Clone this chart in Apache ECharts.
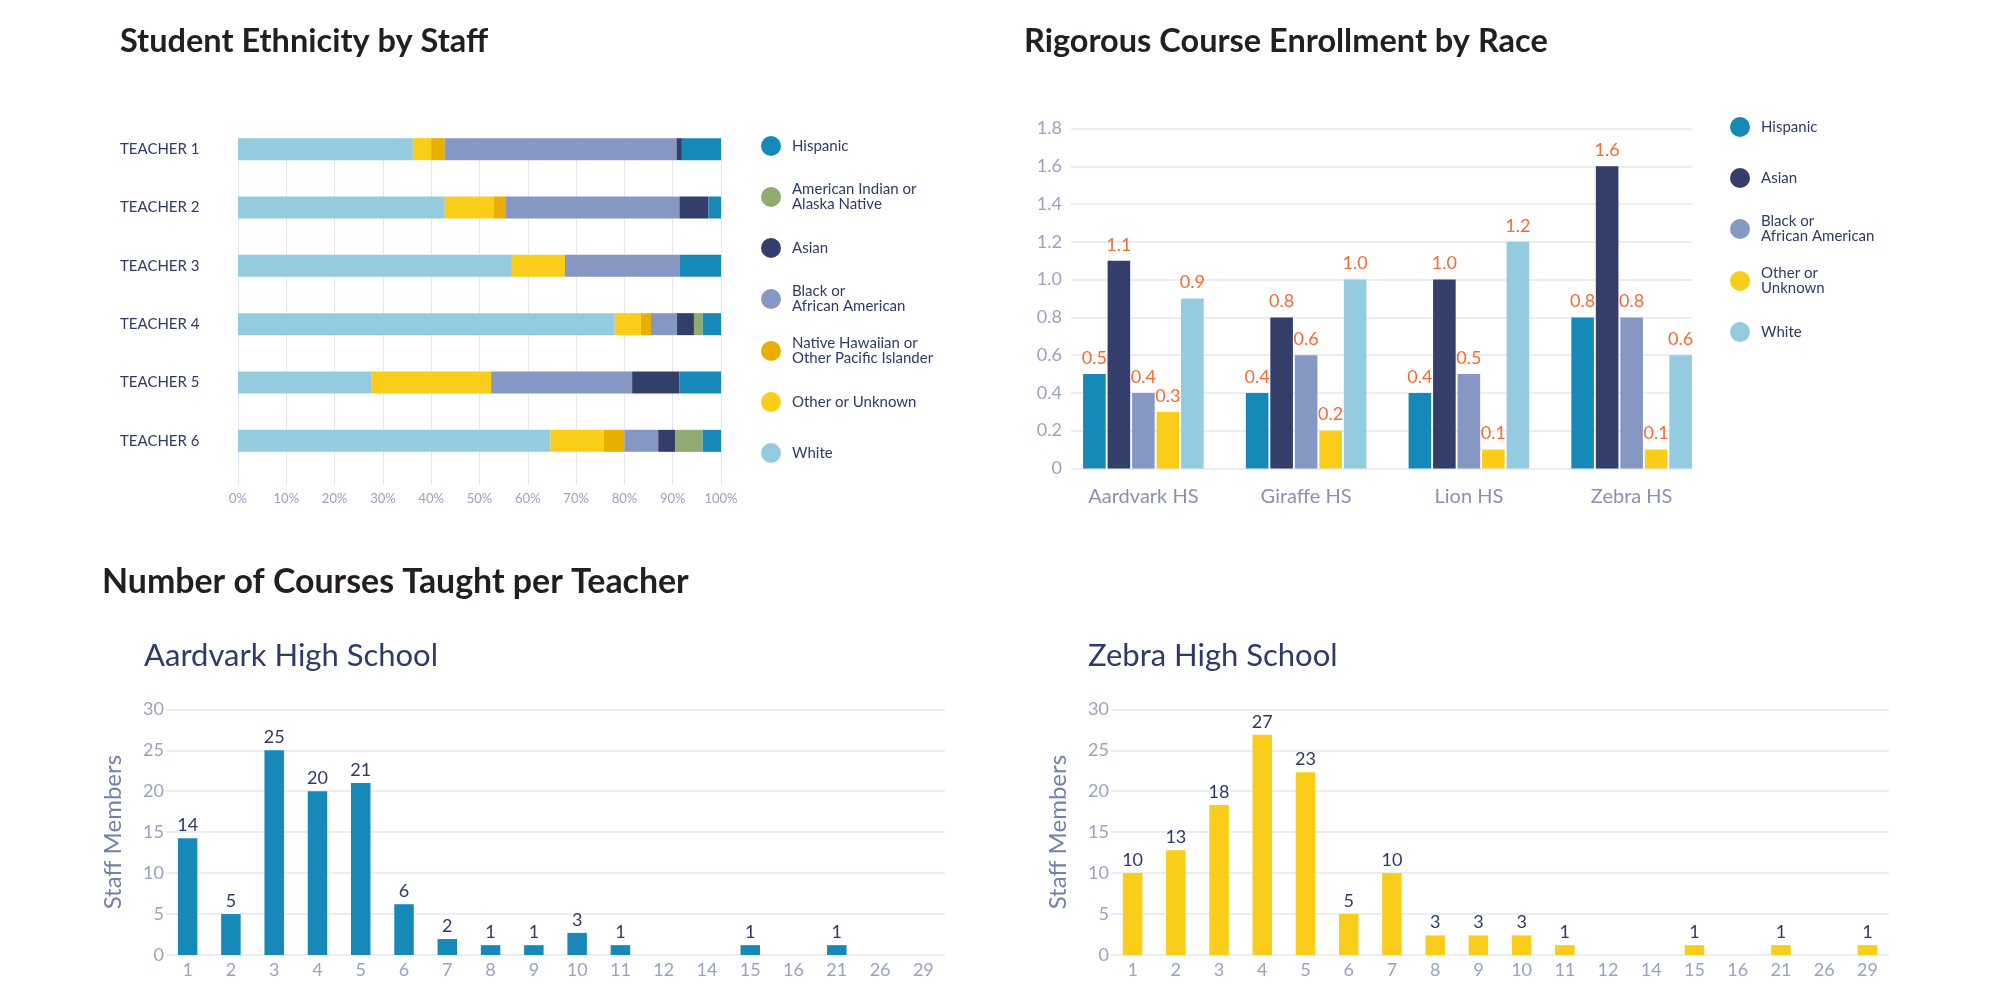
<!DOCTYPE html>
<html>
<head>
<meta charset="utf-8">
<script src="https://cdn.jsdelivr.net/npm/echarts@6/dist/echarts.min.js"></script>
<style>html,body{margin:0;padding:0;background:#fff}#chart{width:2000px;height:1000px}</style>
</head>
<body>
<div id="chart"></div>
<script>
// ---------- DATA ----------
const teachers = ['TEACHER 1', 'TEACHER 2', 'TEACHER 3', 'TEACHER 4', 'TEACHER 5', 'TEACHER 6'];
// percent of each teacher's students
const ethWhite          = [36.2, 42.8, 56.7, 78.0, 27.7, 64.7];
const ethOther          = [3.8, 10.1, 11.0, 5.4, 24.7, 11.0];
const ethNativeHawaiian = [2.8, 2.6, 0, 2.1, 0, 4.3];
const ethBlack          = [48.0, 35.9, 23.7, 5.4, 29.2, 7.0];
const ethAsian          = [1.1, 6.0, 0, 3.5, 9.8, 3.5];
const ethAmIndian       = [0, 0, 0, 1.8, 0, 5.7];
const ethHispanic       = [8.1, 2.6, 8.6, 3.8, 8.6, 3.8];
const pctTicks = [0, 10, 20, 30, 40, 50, 60, 70, 80, 90, 100];

const schools = ['Aardvark HS', 'Giraffe HS', 'Lion HS', 'Zebra HS'];
const rigHispanic = [0.5, 0.4, 0.4, 0.8];
const rigAsian    = [1.1, 0.8, 1.0, 1.6];
const rigBlack    = [0.4, 0.6, 0.5, 0.8];
const rigOther    = [0.3, 0.2, 0.1, 0.1];
const rigWhite    = [0.9, 1.0, 1.2, 0.6];

const courseCounts = ['1', '2', '3', '4', '5', '6', '7', '8', '9', '10', '11', '12', '14', '15', '16', '21', '26', '29'];
// drawn bar heights as they appear, and the printed value labels
const aardvarkHeights = [14.25, 5.0, 25.0, 20.0, 21.0, 6.2, 1.95, 1.2, 1.2, 2.7, 1.2, null, null, 1.2, null, 1.2, null, null];
const aardvarkLabels  = [14, 5, 25, 20, 21, 6, 2, 1, 1, 3, 1, null, null, 1, null, 1, null, null];
const zebraHeights    = [10.0, 12.8, 18.3, 26.9, 22.3, 5.0, 10.0, 2.4, 2.4, 2.4, 1.2, null, null, 1.2, null, 1.2, null, 1.2];
const zebraLabels     = [10, 13, 18, 27, 23, 5, 10, 3, 3, 3, 1, null, null, 1, null, 1, null, 1];

// ---------- STYLE ----------
const F = 'Lato, "Noto Sans", sans-serif';
const NAVY = '#2f3a68';
const GREY = '#9aa2bf';
const GRIDLINE = '#e4e7f1';
const C = {
  hispanic: '#1789b8', amIndian: '#8fab6f', asian: '#333f6a', black: '#8597c2',
  nh: '#e8ae00', other: '#f9cd1a', white: '#94cbdf'
};

const ethDefs = [
  ['White', ethWhite, C.white],
  ['Other or Unknown', ethOther, C.other],
  ['Native Hawaiian or Other Pacific Islander', ethNativeHawaiian, C.nh],
  ['Black or African American', ethBlack, C.black],
  ['Asian', ethAsian, C.asian],
  ['American Indian or Alaska Native', ethAmIndian, C.amIndian],
  ['Hispanic', ethHispanic, C.hispanic]
];
const rigDefs = [
  ['Hispanic', rigHispanic, C.hispanic],
  ['Asian', rigAsian, C.asian],
  ['Black or African American', rigBlack, C.black],
  ['Other or Unknown', rigOther, C.other],
  ['White', rigWhite, C.white]
];

function legendItem(name, label, cx, cy) {
  const lines = label.split('\n').length;
  const h = Math.max(20, 15 * lines);
  return {
    data: [name], left: cx - 11, top: cy - h / 2, orient: 'vertical', padding: 0,
    itemWidth: 32, itemHeight: 20, icon: 'circle', selectedMode: false,
    formatter: () => label,
    textStyle: { fontFamily: F, fontSize: 15, lineHeight: 15, color: NAVY }
  };
}

const legends = [
  legendItem('Hispanic', 'Hispanic', 772, 146),
  legendItem('American Indian or Alaska Native', 'American Indian or\nAlaska Native', 772, 197),
  legendItem('Asian', 'Asian', 772, 248),
  legendItem('Black or African American', 'Black or\nAfrican American', 772, 299),
  legendItem('Native Hawaiian or Other Pacific Islander', 'Native Hawaiian or\nOther Pacific Islander', 772, 351),
  legendItem('Other or Unknown', 'Other or Unknown', 772, 402),
  legendItem('White', 'White', 772, 453),
  legendItem('Hispanic', 'Hispanic', 1741, 127),
  legendItem('Asian', 'Asian', 1741, 178),
  legendItem('Black or African American', 'Black or\nAfrican American', 1741, 229),
  legendItem('Other or Unknown', 'Other or\nUnknown', 1741, 281),
  legendItem('White', 'White', 1741, 332)
];

function titleItem(text, left, top, size, weight, color) {
  return { text, left, top, padding: 0, textStyle: { fontFamily: F, fontSize: size, fontWeight: weight, color } };
}

const courseAxisX = (gi) => ({
  type: 'category', gridIndex: gi, data: courseCounts,
  axisLine: { show: false }, axisTick: { show: false },
  axisLabel: { interval: 0, fontFamily: F, fontSize: 18, color: GREY, margin: 6 }
});
const courseAxisY = (gi) => ({
  type: 'value', gridIndex: gi, min: 0, max: 30, interval: 5,
  axisLine: { show: false }, axisTick: { show: false },
  axisLabel: { fontFamily: F, fontSize: 18, color: GREY, margin: 2 },
  splitLine: { lineStyle: { color: GRIDLINE, width: 1.5 } },
  name: 'Staff Members', nameLocation: 'middle', nameGap: 41,
  nameTextStyle: { fontFamily: F, fontSize: 24, color: '#7480a9' }
});
const courseSeries = (gi, heights, labels, color) => ({
  type: 'bar', xAxisIndex: gi, yAxisIndex: gi, data: heights, barWidth: 19.5,
  itemStyle: { color },
  label: {
    show: true, position: 'top', distance: 4,
    fontFamily: F, fontSize: 18, color: NAVY,
    formatter: p => (labels[p.dataIndex] == null ? '' : String(labels[p.dataIndex]))
  }
});

const option = {
  animation: false,
  backgroundColor: '#ffffff',
  title: [
    titleItem('Student Ethnicity by Staff', 120, 25, 32.5, 'bold', '#231f20'),
    titleItem('Rigorous Course Enrollment by Race', 1024, 25, 32.5, 'bold', '#231f20'),
    titleItem('Number of Courses Taught per Teacher', 102, 565, 33.9, 'bold', '#231f20'),
    titleItem('Aardvark High School', 144, 640, 31, 'normal', NAVY),
    titleItem('Zebra High School', 1088, 640, 31, 'normal', NAVY)
  ],
  legend: legends,
  grid: [
    { left: 238, top: 120, width: 483, height: 350, outerBoundsMode: 'none' },
    { left: 238, top: 138, width: 483, height: 347, outerBoundsMode: 'none' },
    { left: 1062, top: 128.6, width: 651, height: 339.8, outerBoundsMode: 'none' },
    { left: 1071, top: 128.6, width: 621, height: 339.8, outerBoundsMode: 'none' },
    { left: 166, top: 709.3, width: 779, height: 245.7, outerBoundsMode: 'none' },
    { left: 1111, top: 709.3, width: 778, height: 245.7, outerBoundsMode: 'none' }
  ],
  xAxis: [
    { type: 'value', gridIndex: 0, min: 0, max: 100, show: false },
    {
      type: 'value', gridIndex: 1, min: pctTicks[0], max: pctTicks[pctTicks.length - 1], interval: 10,
      axisLine: { show: false }, axisTick: { show: false },
      axisLabel: { formatter: '{value}%', fontFamily: F, fontSize: 13, color: GREY, margin: 7 },
      splitLine: { lineStyle: { color: GRIDLINE, width: 1 } }
    },
    {
      type: 'category', gridIndex: 2, data: schools,
      axisLine: { show: false }, axisTick: { show: false },
      axisLabel: { fontFamily: F, fontSize: 20, color: '#8991b1', margin: 18 }
    },
    { type: 'value', gridIndex: 3, min: 0, max: 1, show: false },
    courseAxisX(4),
    courseAxisX(5)
  ],
  yAxis: [
    {
      type: 'category', gridIndex: 0, data: teachers, inverse: true,
      axisLine: { show: false }, axisTick: { show: false }, splitLine: { show: false },
      axisLabel: { fontFamily: F, fontSize: 15, color: NAVY, align: 'left', margin: 118, padding: [0, 0, 11, 0] }
    },
    { type: 'value', gridIndex: 1, min: 0, max: 1, show: false },
    { type: 'value', gridIndex: 2, min: 0, max: 1.8, interval: 0.2, show: false },
    {
      type: 'value', gridIndex: 3, min: 0, max: 1.8, interval: 0.2,
      axisLine: { show: false }, axisTick: { show: false },
      axisLabel: { fontFamily: F, fontSize: 18, color: GREY, margin: 9,
        formatter: v => (v === 0 ? '0' : v.toFixed(1)) },
      splitLine: { lineStyle: { color: GRIDLINE, width: 1.5 } }
    },
    courseAxisY(4),
    courseAxisY(5)
  ],
  series: [
    ...ethDefs.map(([name, data, color]) => ({
      name, type: 'bar', stack: 'eth', xAxisIndex: 0, yAxisIndex: 0,
      data, barWidth: 22, itemStyle: { color }
    })),
    ...rigDefs.map(([name, data, color]) => ({
      name, type: 'bar', xAxisIndex: 2, yAxisIndex: 2,
      data, barWidth: 22.6, barGap: '8.4%', itemStyle: { color },
      label: {
        show: true, position: 'top', distance: 7,
        fontFamily: F, fontSize: 18, color: '#f26d36',
        formatter: p => p.value.toFixed(1)
      }
    })),
    courseSeries(4, aardvarkHeights, aardvarkLabels, C.hispanic),
    courseSeries(5, zebraHeights, zebraLabels, C.other)
  ]
};

const chart = echarts.init(document.getElementById('chart'), null, { renderer: 'canvas', width: 2000, height: 1000 });
chart.setOption(option);
</script>
</body>
</html>
